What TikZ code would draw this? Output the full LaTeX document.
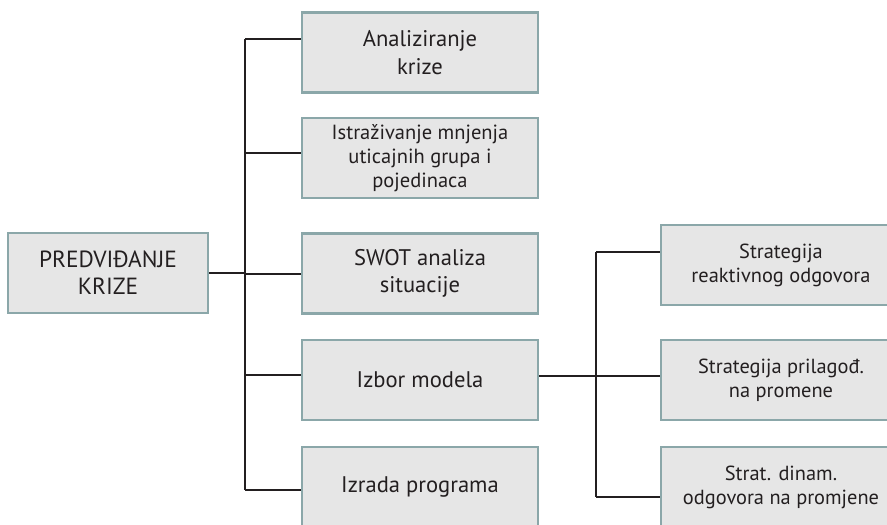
\documentclass[tikz,border=0pt]{standalone}
\usepackage{fontspec}
\setmainfont{PT Sans}
\usetikzlibrary{calc}
\definecolor{boxfill}{HTML}{E6E6E6}
\definecolor{boxedge}{HTML}{8BA7A9}
\definecolor{ink}{HTML}{231F20}
\begin{document}
\begin{tikzpicture}[x=1pt,y=-1pt,
  box/.style={draw=boxedge, line width=2.6pt, fill=boxfill, text=ink,
    minimum width=236pt, minimum height=80pt, align=center, inner sep=0pt,
    font=\fontsize{22.6}{28}\selectfont},
  rbox/.style={box, minimum width=240pt, font=\fontsize{20.4}{24}\selectfont},
  link/.style={draw=ink, line width=1.2pt}]
\useasboundingbox (0,0) rectangle (887,525);
\node[box, minimum width=200pt, font=\fontsize{23.4}{27}\selectfont] (root) at (108,273) {PREDVIĐANJE\\KRIZE};
\node[box] (b1) at (420,52.5) {Analiziranje\\krize};
\node[box, font=\fontsize{20.5}{24}\selectfont] (b2) at (420,158) {Istraživanje mnjenja\\uticajnih grupa i\\pojedinaca};
\node[box, font=\fontsize{22.6}{27}\selectfont] (b3) at (420,273.5) {SWOT analiza\\situacije};
\node[box] (b4) at (420,380) {Izbor modela};
\node[box] (b5) at (420,487) {Izrada programa};
\node[rbox] (r1) at (781,265) {Strategija\\reaktivnog odgovora};
\node[rbox] (r2) at (781,380) {Strategija prilagođ.\\na promene};
\node[rbox] (r3) at (781,487) {Strat. dinam.\\odgovora na promjene};
% left spine
\coordinate (sp1) at (245,39);
\coordinate (sp5) at (245,490);
\coordinate (c1) at ($(b1.west)+(0,-13.5)$);
\coordinate (c2) at ($(b2.west)+(0,-5)$);
\coordinate (c3) at ($(b3.west)+(0,0.5)$);
\coordinate (c4) at ($(b4.west)+(0,-5)$);
\coordinate (c5) at ($(b5.west)+(0,3)$);
\draw[link] (sp1) -- (sp5);
\draw[link] (root.east) -- (root.east -| sp1);
\draw[link] (c1) -- (c1 -| sp1);
\draw[link] (c2) -- (c2 -| sp1);
\draw[link] (c3) -- (c3 -| sp1);
\draw[link] (c4) -- (c4 -| sp1);
\draw[link] (c5) -- (c5 -| sp1);
% right spine
\coordinate (rs1) at (596,252);
\coordinate (rs3) at (596,497);
\coordinate (d0) at ($(b4.east)+(0,-4)$);
\coordinate (d1) at ($(r1.west)+(0,-13)$);
\coordinate (d2) at ($(r2.west)+(0,-4)$);
\coordinate (d3) at ($(r3.west)+(0,10)$);
\draw[link] (rs1) -- (rs3);
\draw[link] (d0) -- (d0 -| rs1);
\draw[link] (d1) -- (d1 -| rs1);
\draw[link] (d2) -- (d2 -| rs1);
\draw[link] (d3) -- (d3 -| rs1);
\end{tikzpicture}
\end{document}
